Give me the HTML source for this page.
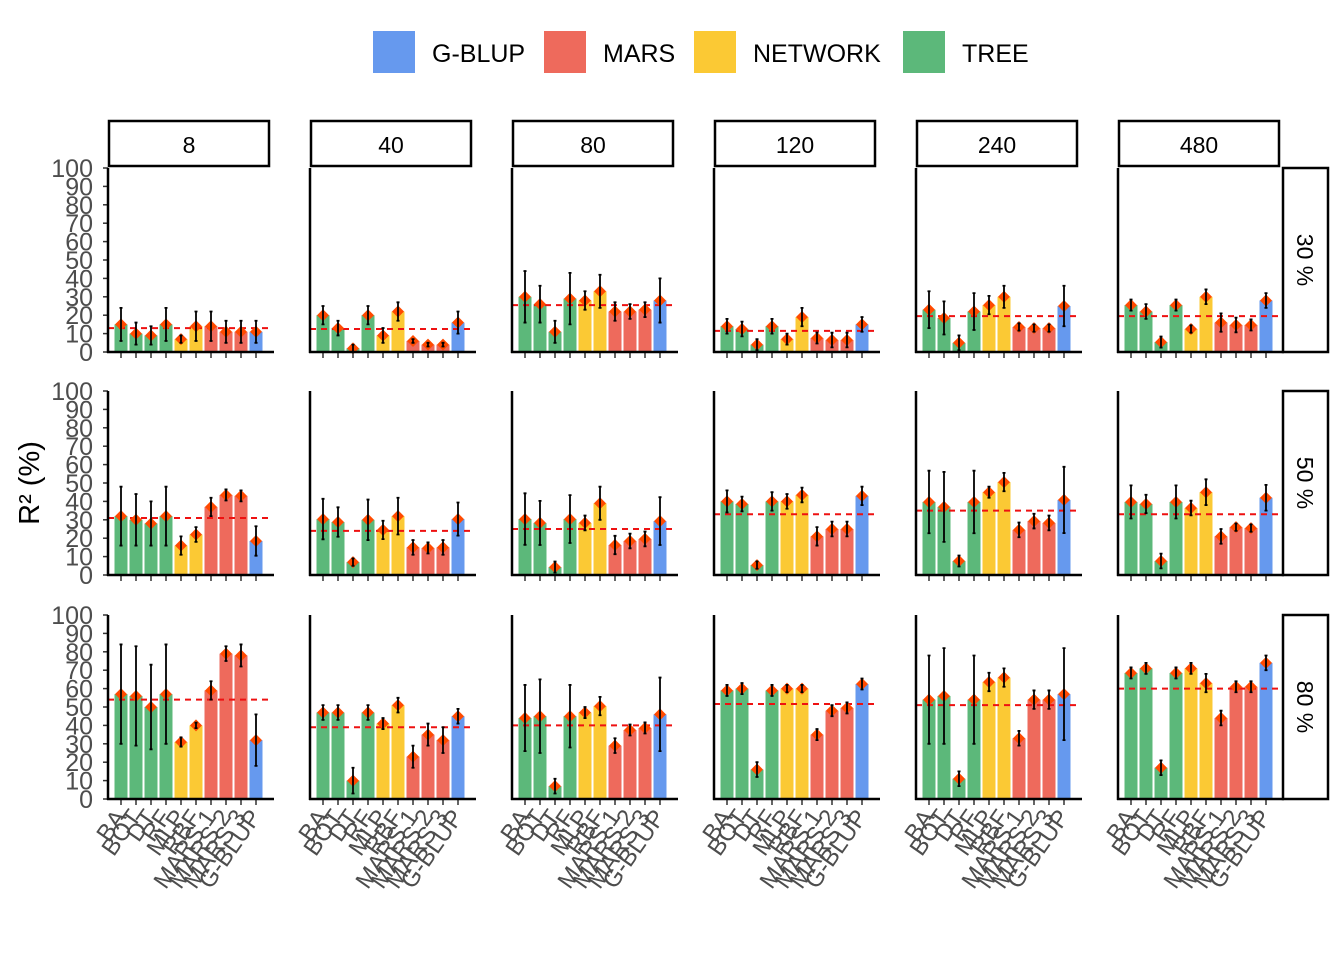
<!DOCTYPE html>
<html><head><meta charset="utf-8"><style>body{margin:0;background:#fff}svg{display:block}</style></head>
<body>
<svg id="chart" width="1344" height="960" xmlns="http://www.w3.org/2000/svg" font-family="Liberation Sans, sans-serif"></svg>
<script>
const categories=["BA","BOT","DT","RF","MLP","RBF","MARS 1","MARS 2","MARS 3","G-BLUP"];
const groups=["TREE","TREE","TREE","TREE","NETWORK","NETWORK","MARS","MARS","MARS","G-BLUP"];
const colLabels=["8","40","80","120","240","480"];
const rowLabels=["30 %","50 %","80 %"];
const yTicks=[0,10,20,30,40,50,60,70,80,90,100];
const means=[
[[15,10,9,15,7,14,14,11,11,11],[20,13,2,20,9,22,6,4,4,16],[30,26,11,29,28,33,22,22,23,28],[14,12.5,4,14,7,19,7.6,6.5,6.5,15],[23,18.5,5,22,25.5,30,13.6,13,13,25],[25.5,22,5.4,25.5,12.5,30,16,14.7,14.7,28]],
[[32,30,28,32,16,22,37,43.5,43,18.5],[30.4,28.8,7,30,24.5,32,15,14.7,15,30.4],[30.4,28.3,4.3,30.4,28.3,39,16.3,18.5,19.6,29.3],[40,38.6,5.4,40,40,43.5,21,25,25,43],[39.7,37,7.6,39.7,45,50.5,24.5,29.3,28.3,40.8],[39.7,38.6,7.6,39.7,36.4,45,21,26,25.5,42]],
[[57,56,50,57,31,40,59,79,78,32],[47,47,10,47,41,51,23,35,32,45],[44,45,7,45,47,50.5,29,37.5,38.6,46],[59,60,16,59,60,60,35,48,49.5,62.5],[54,56,11,54,63.6,66,33,54,54,57],[68.5,71,17,68.5,71,63,44,61,61,74]]];
const errs=[
[[9,6,5,9,2,8,8,6,6,6],[5,4,2,5,4,5,1,1,1,6],[14,10,6,14,5,9,5,4,4,12],[4,4,3,4,3,5,3,4,4,4],[10,9,4,10,5,6,2,2,2,11],[3,4,3,3,2,4,5,4,3,4]],
[[16,14,12,16,5,4,5,3,3,8],[11,8,2,11,5,10,4,3,4,9],[14,12,3,13,4,9,5,4,4,13],[6,4,2,5,4,4,5,4,4,5],[17,19,3,17,3,5,4,4,4,18],[9,5,4,9,4,7,4,2,2,7]],
[[27,27,23,27,2.5,1.5,5,4,6,14],[4,4,7,4,3,4,6,6,7,4],[18,20,4,17,3,5,4,3,3,20],[3,3,4,3,2,2,3,3,3,3],[24,26,4,24,5,5,4,5,5,25],[3,3,4,3,3,5,4,3,3,4]]];
const refLines=[[13,12.5,25.5,11.5,19.5,19.5],[31,24,25,33,35,33],[54,39,40,51.6,51,60]];
const legendNames=["G-BLUP","MARS","NETWORK","TREE"];
const colors={"G-BLUP":"#6699EE","MARS":"#EE6A5C","NETWORK":"#FBC934","TREE":"#5CB87A"};

const svg=document.getElementById('chart');
const NS="http://www.w3.org/2000/svg";
function mk(tag,attrs,parent){const e=document.createElementNS(NS,tag);for(const k in attrs)e.setAttribute(k,attrs[k]);(parent||svg).appendChild(e);return e;}
const colX=[108,310,512,714,916,1118];
const rowBottom=[352,575,799];
const pxPerUnit=1.84;
const yScale=(r,v)=>rowBottom[r]-v*pxPerUnit;
const xScale=(c,i)=>colX[c]+13+i*15;

const legX=[373,544,694,903];
legendNames.forEach((n,i)=>{
 const g=mk('g',{});
 
 
 mk('rect',{x:legX[i],y:31,width:42,height:42,fill:colors[n]},g);
 const t=mk('text',{x:legX[i]+59,y:62,'font-size':25,fill:'#000'},g);t.textContent=n;
});
const yt=mk('text',{x:39,y:483,'font-size':29,'text-anchor':'middle',transform:'rotate(-90 39 483)'});


yt.textContent='R² (%)';

colLabels.forEach((cl,c)=>{
 const g=mk('g',{});
 
 
 mk('rect',{x:colX[c]+1,y:121,width:160,height:45,fill:'#fff',stroke:'#000','stroke-width':2.5},g);
 const t=mk('text',{x:colX[c]+81,y:153,'font-size':23,'text-anchor':'middle'},g);t.textContent=cl;
});
rowLabels.forEach((rl,r)=>{
 const g=mk('g',{});
 
 
 const top=rowBottom[r]-184;
 mk('rect',{x:1283,y:top,width:45,height:184,fill:'#fff',stroke:'#000','stroke-width':2.5},g);
 const cy=top+92;
 const t=mk('text',{x:1305,y:cy,'font-size':23,'text-anchor':'middle','dominant-baseline':'central',transform:`rotate(90 1305 ${cy})`},g);t.textContent=rl;
});

for(let r=0;r<3;r++){
 const ya=mk('g',{});
 
 
 yTicks.forEach(v=>{
  const y=yScale(r,v);
  const t=mk('text',{x:93,y:y+9,'font-size':25,'text-anchor':'end',fill:'#4d4d4d'},ya);t.textContent=v;
  mk('line',{x1:103,x2:108,y1:y,y2:y,stroke:'#333','stroke-width':1.5},ya);
 });
 for(let c=0;c<6;c++){
  const p=mk('g',{});
  
  
  categories.forEach((cat,i)=>{
   const v=means[r][c][i],x=xScale(c,i);
   const b=mk('rect',{x:x-6.5,y:yScale(r,v),width:13,height:v*pxPerUnit,fill:colors[groups[i]]},p);
   
   
  });
  const y0=yScale(r,refLines[r][c]);
  const rl=mk('line',{x1:colX[c],x2:colX[c]+162,y1:y0,y2:y0,stroke:'#ee1111','stroke-width':2,'stroke-dasharray':'6,5'},p);
  
  
  categories.forEach((cat,i)=>{
   const v=means[r][c][i],e=errs[r][c][i],x=xScale(c,i);
   const y=yScale(r,v);
   const pt=mk('path',{d:`M${x} ${y-6}L${x+6} ${y}L${x} ${y+6}L${x-6} ${y}Z`,fill:'#FF4A00'},p);
   
   
   const eb=mk('path',{d:`M${x-1.5} ${yScale(r,v+e)}H${x+1.5}M${x} ${yScale(r,v+e)}V${yScale(r,v-e)}M${x-1.5} ${yScale(r,v-e)}H${x+1.5}`,stroke:'#000','stroke-width':1.8,fill:'none'},p);
   
   
   mk('line',{x1:x,x2:x,y1:rowBottom[r],y2:rowBottom[r]+6,stroke:'#333','stroke-width':1.5},p);
   if(r===2){
    const t=mk('text',{x:x+6,y:rowBottom[r]+18,'font-size':24,fill:'#4d4d4d','text-anchor':'end',transform:`rotate(-55 ${x+6} ${rowBottom[r]+18})`},p);
    
    
    t.textContent=cat;
   }
  });
  mk('line',{x1:colX[c],x2:colX[c],y1:rowBottom[r]-184,y2:rowBottom[r]+1,stroke:'#000','stroke-width':2.5},p);
  mk('line',{x1:colX[c]-1,x2:colX[c]+166,y1:rowBottom[r],y2:rowBottom[r],stroke:'#000','stroke-width':2.5},p);
 }
}
</script>
</body></html>
